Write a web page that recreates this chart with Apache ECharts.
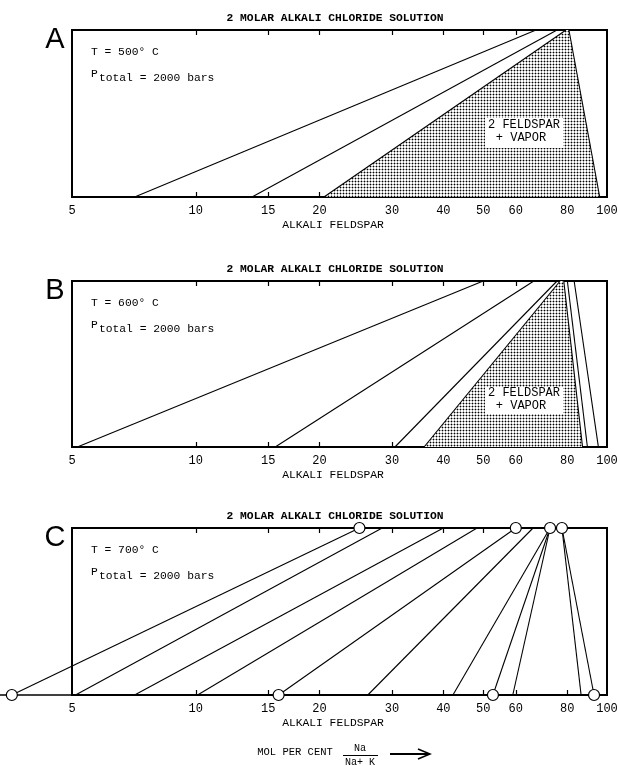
<!DOCTYPE html>
<html><head><meta charset="utf-8">
<script src="https://cdn.jsdelivr.net/npm/echarts@6/dist/echarts.min.js"></script>
<style>html,body{margin:0;padding:0;background:#fff}#c{width:618px;height:766px}</style>
</head><body><div id="c"></div>
<script>
// ---- data ----
const tickLabels = [5, 10, 15, 20, 30, 40, 50, 60, 80, 100];
const bottomTicks = [10, 15, 20, 30, 40, 50, 60, 80];
const topTicks = [10, 15, 20, 30, 40, 50, 60];
const panelLetters = ['A', 'B', 'C'];
const temperatures = ['500', '600', '700'];

// Panel A (500 C): feldspar (bottom) -> solution (top)
const aBottom = [7.1, 13.7, 20.5, 96];
const aTop = [67.2, 75.6, 79.5, 80.8];
const aShadeBottom = [20.5, 96];
const aShadeTop = [79.5, 80.8];

// Panel B (600 C)
const bBottom = [5.15, 15.6, 30.5, 35.9, 87.2, 89.6, 95.3];
const bTop = [50, 66.4, 75.6, 76.9, 78.5, 80.1, 83.2];
const bShadeBottom = [35.9, 87.2];
const bShadeTop = [76.9, 78.5];

// Panel C (700 C)
const cBottom = [3.57, 5.1, 7.1, 10.1, 15.9, 26.2, 42.2, 52.8, 59.0, 86.5, 93];
const cTop = [25, 28.4, 40, 48.3, 60, 66.1, 72.7, 72.7, 72.7, 77.7, 77.7];
const cBottomPoints = [3.57, 15.9, 52.8, 93];
const cTopPoints = [25, 60, 72.7, 77.7];
const cAxisExtension = [3.3, 5];

// ---- build ----
const MONO = '"Liberation Mono", "DejaVu Sans Mono", monospace';
const pc = document.createElement('canvas');
pc.width = 3; pc.height = 3;
const g = pc.getContext('2d');
g.fillStyle = '#fff'; g.fillRect(0, 0, 3, 3);
g.fillStyle = '#a8a8a8'; g.fillRect(0, 1, 3, 1); g.fillRect(1, 0, 1, 3);
g.fillStyle = '#000'; g.fillRect(1, 1, 1, 1);
const dotPattern = { image: pc, repetition: 'repeat' };

const grids = [
  { left: 72, right: 11, top: 30, height: 167 },
  { left: 72, right: 11, top: 281, height: 166 },
  { left: 72, right: 11, top: 528, height: 167 }
].map(gr => Object.assign(gr, { show: true, borderColor: '#000', borderWidth: 2, backgroundColor: 'transparent', containLabel: false, outerBoundsMode: 'none' }));

const xAxes = [], yAxes = [];
for (let i = 0; i < 3; i++) {
  xAxes.push({
    type: 'log', logBase: 10, min: 5, max: 100, gridIndex: i, position: 'bottom',
    axisLine: { show: true, onZero: false, lineStyle: { color: '#000', width: 2 } },
    axisTick: { show: true, inside: true, length: 5, customValues: bottomTicks, lineStyle: { color: '#000', width: 1.2 } },
    axisLabel: { show: true, customValues: tickLabels, color: '#000', fontFamily: MONO, fontSize: 12, margin: 8 },
    splitLine: { show: false }, minorTick: { show: false }, minorSplitLine: { show: false }
  });
  xAxes.push({
    type: 'log', logBase: 10, min: 5, max: 100, gridIndex: i, position: 'top',
    axisLine: { show: true, onZero: false, lineStyle: { color: '#000', width: 2 } },
    axisTick: { show: true, inside: true, length: 5, customValues: topTicks, lineStyle: { color: '#000', width: 1.2 } },
    axisLabel: { show: false },
    splitLine: { show: false }, minorTick: { show: false }
  });
  yAxes.push({ type: 'value', min: 0, max: 1, gridIndex: i, show: false, splitLine: { show: false } });
}

const series = [];
// tie lines: each item [bottom value (feldspar), top value (solution)]
function tieLines(bottom, top, gi, width) {
  series.push({
    type: 'custom', xAxisIndex: gi * 2, yAxisIndex: gi, silent: true, z: 3, clip: false,
    data: bottom.map((b, k) => [b, top[k]]),
    encode: { x: [0, 1] },
    renderItem: (params, api) => {
      const p0 = api.coord([api.value(0), 0]);
      const p1 = api.coord([api.value(1), 1]);
      return { type: 'line', shape: { x1: p0[0], y1: p0[1], x2: p1[0], y2: p1[1] }, style: { stroke: '#000', lineWidth: width || 1.1 } };
    }
  });
}
function shade(sb, st, gi) {
  const pts = [[sb[0], 0], [st[0], 1], [st[1], 1], [sb[1], 0]];
  series.push({
    type: 'custom', xAxisIndex: gi * 2, yAxisIndex: gi, data: pts, silent: true, z: 1,
    encode: { x: 0, y: 1 },
    renderItem: (params, api) => {
      if (params.dataIndex !== 0) return null;
      return { type: 'polygon', shape: { points: pts.map(p => api.coord(p)) }, style: { fill: dotPattern, stroke: null } };
    }
  });
}
shade(aShadeBottom, aShadeTop, 0);
shade(bShadeBottom, bShadeTop, 1);
tieLines(aBottom, aTop, 0);
tieLines(bBottom, bTop, 1);
tieLines(cBottom, cTop, 2);
// axis line continuation left of panel C
series.push({
  type: 'custom', xAxisIndex: 4, yAxisIndex: 2, silent: true, z: 3, clip: false,
  data: [cAxisExtension], encode: { x: [0, 1] },
  renderItem: (params, api) => {
    const p0 = api.coord([api.value(0), 0]);
    const p1 = api.coord([api.value(1), 0]);
    return { type: 'line', shape: { x1: p0[0], y1: p0[1], x2: p1[0], y2: p1[1] }, style: { stroke: '#000', lineWidth: 1.6 } };
  }
});
series.push({
  type: 'scatter', xAxisIndex: 4, yAxisIndex: 2,
  data: cBottomPoints.map(v => [v, 0]).concat(cTopPoints.map(v => [v, 1])),
  symbol: 'circle', symbolSize: 11, clip: false, silent: true, z: 6,
  itemStyle: { color: '#fff', borderColor: '#000', borderWidth: 1.2, opacity: 1 }
});

function txt(x, y, text, size, opts) {
  opts = opts || {};
  return {
    type: 'text', x: x, y: y, z: 100,
    style: Object.assign({
      text: text, fill: '#000', font: (opts.weight || 'normal') + ' ' + size + 'px ' + (opts.family || MONO),
      align: opts.align || 'left', verticalAlign: 'middle',
      textAlign: opts.align || 'left', textVerticalAlign: 'middle'
    }, opts.style || {})
  };
}
const boxTops = [30, 281, 528];
const boxBottoms = [197, 447, 695];
const graphics = [];
for (let i = 0; i < 3; i++) {
  const t = boxTops[i], b = boxBottoms[i];
  graphics.push(txt(335, t - 12, '2 MOLAR ALKALI CHLORIDE SOLUTION', 11.3, { align: 'center', weight: 'bold' }));
  graphics.push(txt(55, t + 10, panelLetters[i], 29, { align: 'center', family: '"Liberation Sans", "DejaVu Sans", sans-serif' }));
  graphics.push(txt(91, t + 22, 'T = ' + temperatures[i] + '\u00B0 C', 11.3));
  graphics.push(txt(91, t + 44, 'P', 11.3));
  graphics.push(txt(99, t + 48, 'total = 2000 bars', 11.3));
  graphics.push(txt(333, b + 28, 'ALKALI FELDSPAR', 11.3, { align: 'center' }));
}
// "2 FELDSPAR + VAPOR" labels
[[485, 118, 78, 30, 125, 138], [485, 387, 78, 27, 393, 406]].forEach(r => {
  graphics.push({ type: 'rect', shape: { x: r[0], y: r[1], width: r[2], height: r[3] }, style: { fill: '#fff' }, z: 90 });
  graphics.push(txt(524, r[4], '2 FELDSPAR', 12, { align: 'center' }));
  graphics.push(txt(521, r[5], '+ VAPOR', 12, { align: 'center' }));
});
// bottom caption
graphics.push(txt(295, 752, 'MOL PER CENT', 10.5, { align: 'center' }));
graphics.push(txt(360, 748, 'Na', 10, { align: 'center' }));
graphics.push(txt(360, 762, 'Na+ K', 10, { align: 'center' }));
graphics.push({ type: 'line', shape: { x1: 343, y1: 755.5, x2: 378, y2: 755.5 }, style: { stroke: '#000', lineWidth: 1 }, z: 100 });
graphics.push({ type: 'line', shape: { x1: 390, y1: 754, x2: 429, y2: 754 }, style: { stroke: '#000', lineWidth: 2 }, z: 100 });
graphics.push({ type: 'polyline', shape: { points: [[418, 749], [430, 754], [418, 759]] }, style: { stroke: '#000', lineWidth: 1.5, fill: null }, z: 100 });

const chart = echarts.init(document.getElementById('c'), null, { renderer: 'canvas' });
chart.setOption({
  animation: false,
  backgroundColor: '#fff',
  grid: grids,
  xAxis: xAxes,
  yAxis: yAxes,
  series: series,
  graphic: { elements: graphics }
});
</script></body></html>
